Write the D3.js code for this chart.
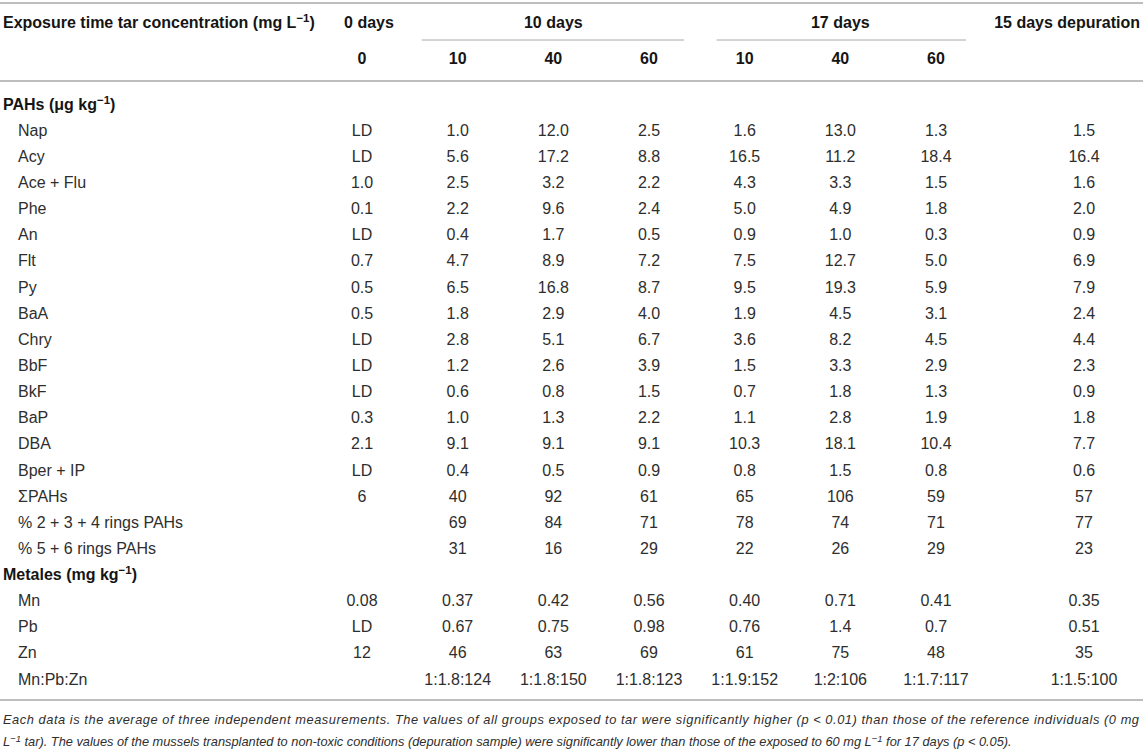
<!DOCTYPE html>
<html><head><meta charset="utf-8">
<script src="https://cdn.jsdelivr.net/npm/d3@7/dist/d3.min.js"></script>
<style>
html,body{margin:0;padding:0;background:#fff;}
svg{display:block;font-family:"Liberation Sans",Arial,Helvetica,sans-serif;}
</style></head>
<body>
<svg id="t" width="1143" height="753"></svg>
<script>
// ---------- data ----------
const groups = ["0 days", "10 days", "17 days", "15 days depuration"];
const concentrations = ["0", "10", "40", "60", "10", "40", "60", ""];
const colKeys = ["d0c0", "d10c10", "d10c40", "d10c60", "d17c10", "d17c40", "d17c60", "dep"];

const pahLabels = ["Nap", "Acy", "Ace + Flu", "Phe", "An", "Flt", "Py", "BaA", "Chry", "BbF", "BkF", "BaP", "DBA", "Bper + IP", "ΣPAHs", "% 2 + 3 + 4 rings PAHs", "% 5 + 6 rings PAHs"];
const metalLabels = ["Mn", "Pb", "Zn", "Mn:Pb:Zn"];

const d0c0   = ["LD","LD","1.0","0.1","LD","0.7","0.5","0.5","LD","LD","LD","0.3","2.1","LD","6","","", "0.08","LD","12",""];
const d10c10 = ["1.0","5.6","2.5","2.2","0.4","4.7","6.5","1.8","2.8","1.2","0.6","1.0","9.1","0.4","40","69","31", "0.37","0.67","46","1:1.8:124"];
const d10c40 = ["12.0","17.2","3.2","9.6","1.7","8.9","16.8","2.9","5.1","2.6","0.8","1.3","9.1","0.5","92","84","16", "0.42","0.75","63","1:1.8:150"];
const d10c60 = ["2.5","8.8","2.2","2.4","0.5","7.2","8.7","4.0","6.7","3.9","1.5","2.2","9.1","0.9","61","71","29", "0.56","0.98","69","1:1.8:123"];
const d17c10 = ["1.6","16.5","4.3","5.0","0.9","7.5","9.5","1.9","3.6","1.5","0.7","1.1","10.3","0.8","65","78","22", "0.40","0.76","61","1:1.9:152"];
const d17c40 = ["13.0","11.2","3.3","4.9","1.0","12.7","19.3","4.5","8.2","3.3","1.8","2.8","18.1","1.5","106","74","26", "0.71","1.4","75","1:2:106"];
const d17c60 = ["1.3","18.4","1.5","1.8","0.3","5.0","5.9","3.1","4.5","2.9","1.3","1.9","10.4","0.8","59","71","29", "0.41","0.7","48","1:1.7:117"];
const dep    = ["1.5","16.4","1.6","2.0","0.9","6.9","7.9","2.4","4.4","2.3","0.9","1.8","7.7","0.6","57","77","23", "0.35","0.51","35","1:1.5:100"];

const footnote1 = "Each data is the average of three independent measurements. The values of all groups exposed to tar were significantly higher (p < 0.01) than those of the reference individuals (0 mg";
const footnote2a = "L";
const footnote2b = " tar). The values of the mussels transplanted to non-toxic conditions (depuration sample) were significantly lower than those of the exposed to 60 mg L";
const footnote2c = " for 17 days (p < 0.05).";

// ---------- layout ----------
const svg = d3.select("#t");
const W = 1143;
const columns = [d0c0, d10c10, d10c40, d10c60, d17c10, d17c40, d17c60, dep];

const x = d3.scalePoint().domain(colKeys.slice(0, 7)).range([362, 936]);
const colX = k => k === "dep" ? 1084 : x(k);

const rowKeys = ["PAHs"].concat(pahLabels, ["Metales"], metalLabels);
const y = d3.scalePoint().domain(rowKeys).range([104, 679]);

const lineColor = "#a8a8a8";
const textColor = "#2e2e2e";
const headColor = "#151515";
const fs = 16;

// rules
function hline(x1, x2, yy, w) {
  svg.append("line").attr("x1", x1).attr("x2", x2).attr("y1", yy).attr("y2", yy)
    .attr("stroke", lineColor).attr("stroke-width", w);
}
hline(0, W, 3, 1.5);
hline(0, W, 81, 1.5);
hline(0, W, 700, 1.5);
hline(x("d10c10") - 36, x("d10c60") + 35, 40, 1);
hline(x("d17c10") - 28, x("d17c60") + 30, 40, 1);

function sup(sel, base, supTxt, tail) {
  sel.append("tspan").text(base);
  sel.append("tspan").attr("dy", -6).attr("font-size", fs * 0.72).text(supTxt);
  sel.append("tspan").attr("dy", 6).text(tail);
}

// header row 1
const h1y = 22;
const h1 = svg.append("text").attr("x", 3).attr("y", h1y).attr("dy", "0.35em")
  .attr("font-size", fs).attr("font-weight", "bold").attr("fill", headColor);
sup(h1, "Exposure time tar concentration (mg L", "−1", ")");

const groupX = [369, x("d10c40"), x("d17c40"), 1140];
const groupAnchor = ["middle", "middle", "middle", "end"];
svg.selectAll("text.grp").data(groups).join("text").attr("class", "grp")
  .attr("x", (d, i) => groupX[i]).attr("y", h1y).attr("dy", "0.35em")
  .attr("text-anchor", (d, i) => groupAnchor[i]).attr("font-size", fs).attr("font-weight", "bold")
  .attr("fill", headColor).text(d => d);

// header row 2
svg.selectAll("text.conc").data(concentrations).join("text").attr("class", "conc")
  .attr("x", (d, i) => colX(colKeys[i])).attr("y", 58).attr("dy", "0.35em")
  .attr("text-anchor", "middle").attr("font-size", fs).attr("font-weight", "bold")
  .attr("fill", headColor).text(d => d);

// section headers
const s1 = svg.append("text").attr("x", 3).attr("y", y("PAHs")).attr("dy", "0.35em")
  .attr("font-size", fs).attr("font-weight", "bold").attr("fill", headColor);
sup(s1, "PAHs (μg kg", "−1", ")");
const s2 = svg.append("text").attr("x", 3).attr("y", y("Metales")).attr("dy", "0.35em")
  .attr("font-size", fs).attr("font-weight", "bold").attr("fill", headColor);
sup(s2, "Metales (mg kg", "−1", ")");

// row labels
const rowLabels = pahLabels.concat(metalLabels);
svg.selectAll("text.rl").data(rowLabels).join("text").attr("class", "rl")
  .attr("x", 18).attr("y", d => y(d)).attr("dy", "0.35em")
  .attr("font-size", fs).attr("fill", textColor).text(d => d);

// cells
columns.forEach((col, ci) => {
  svg.selectAll("text.c" + ci).data(col).join("text").attr("class", "c" + ci)
    .attr("x", colX(colKeys[ci])).attr("y", (d, i) => y(rowLabels[i])).attr("dy", "0.35em")
    .attr("text-anchor", "middle").attr("font-size", fs).attr("fill", textColor).text(d => d);
});

// footnote
const ffs = 12.8;
svg.append("text").attr("x", 3).attr("y", 720).attr("dy", "0.35em")
  .attr("font-size", ffs).attr("font-style", "italic").attr("fill", textColor)
  .attr("textLength", 1136).attr("lengthAdjust", "spacing").text(footnote1);
const f2 = svg.append("text").attr("x", 3).attr("y", 742).attr("dy", "0.35em")
  .attr("font-size", ffs).attr("font-style", "italic").attr("fill", textColor);
f2.append("tspan").text(footnote2a);
f2.append("tspan").attr("dy", -4).attr("font-size", 9.5).text("−1");
f2.append("tspan").attr("dy", 4).text(footnote2b);
f2.append("tspan").attr("dy", -4).attr("font-size", 9.5).text("−1");
f2.append("tspan").attr("dy", 4).text(footnote2c);
</script>
</body></html>
